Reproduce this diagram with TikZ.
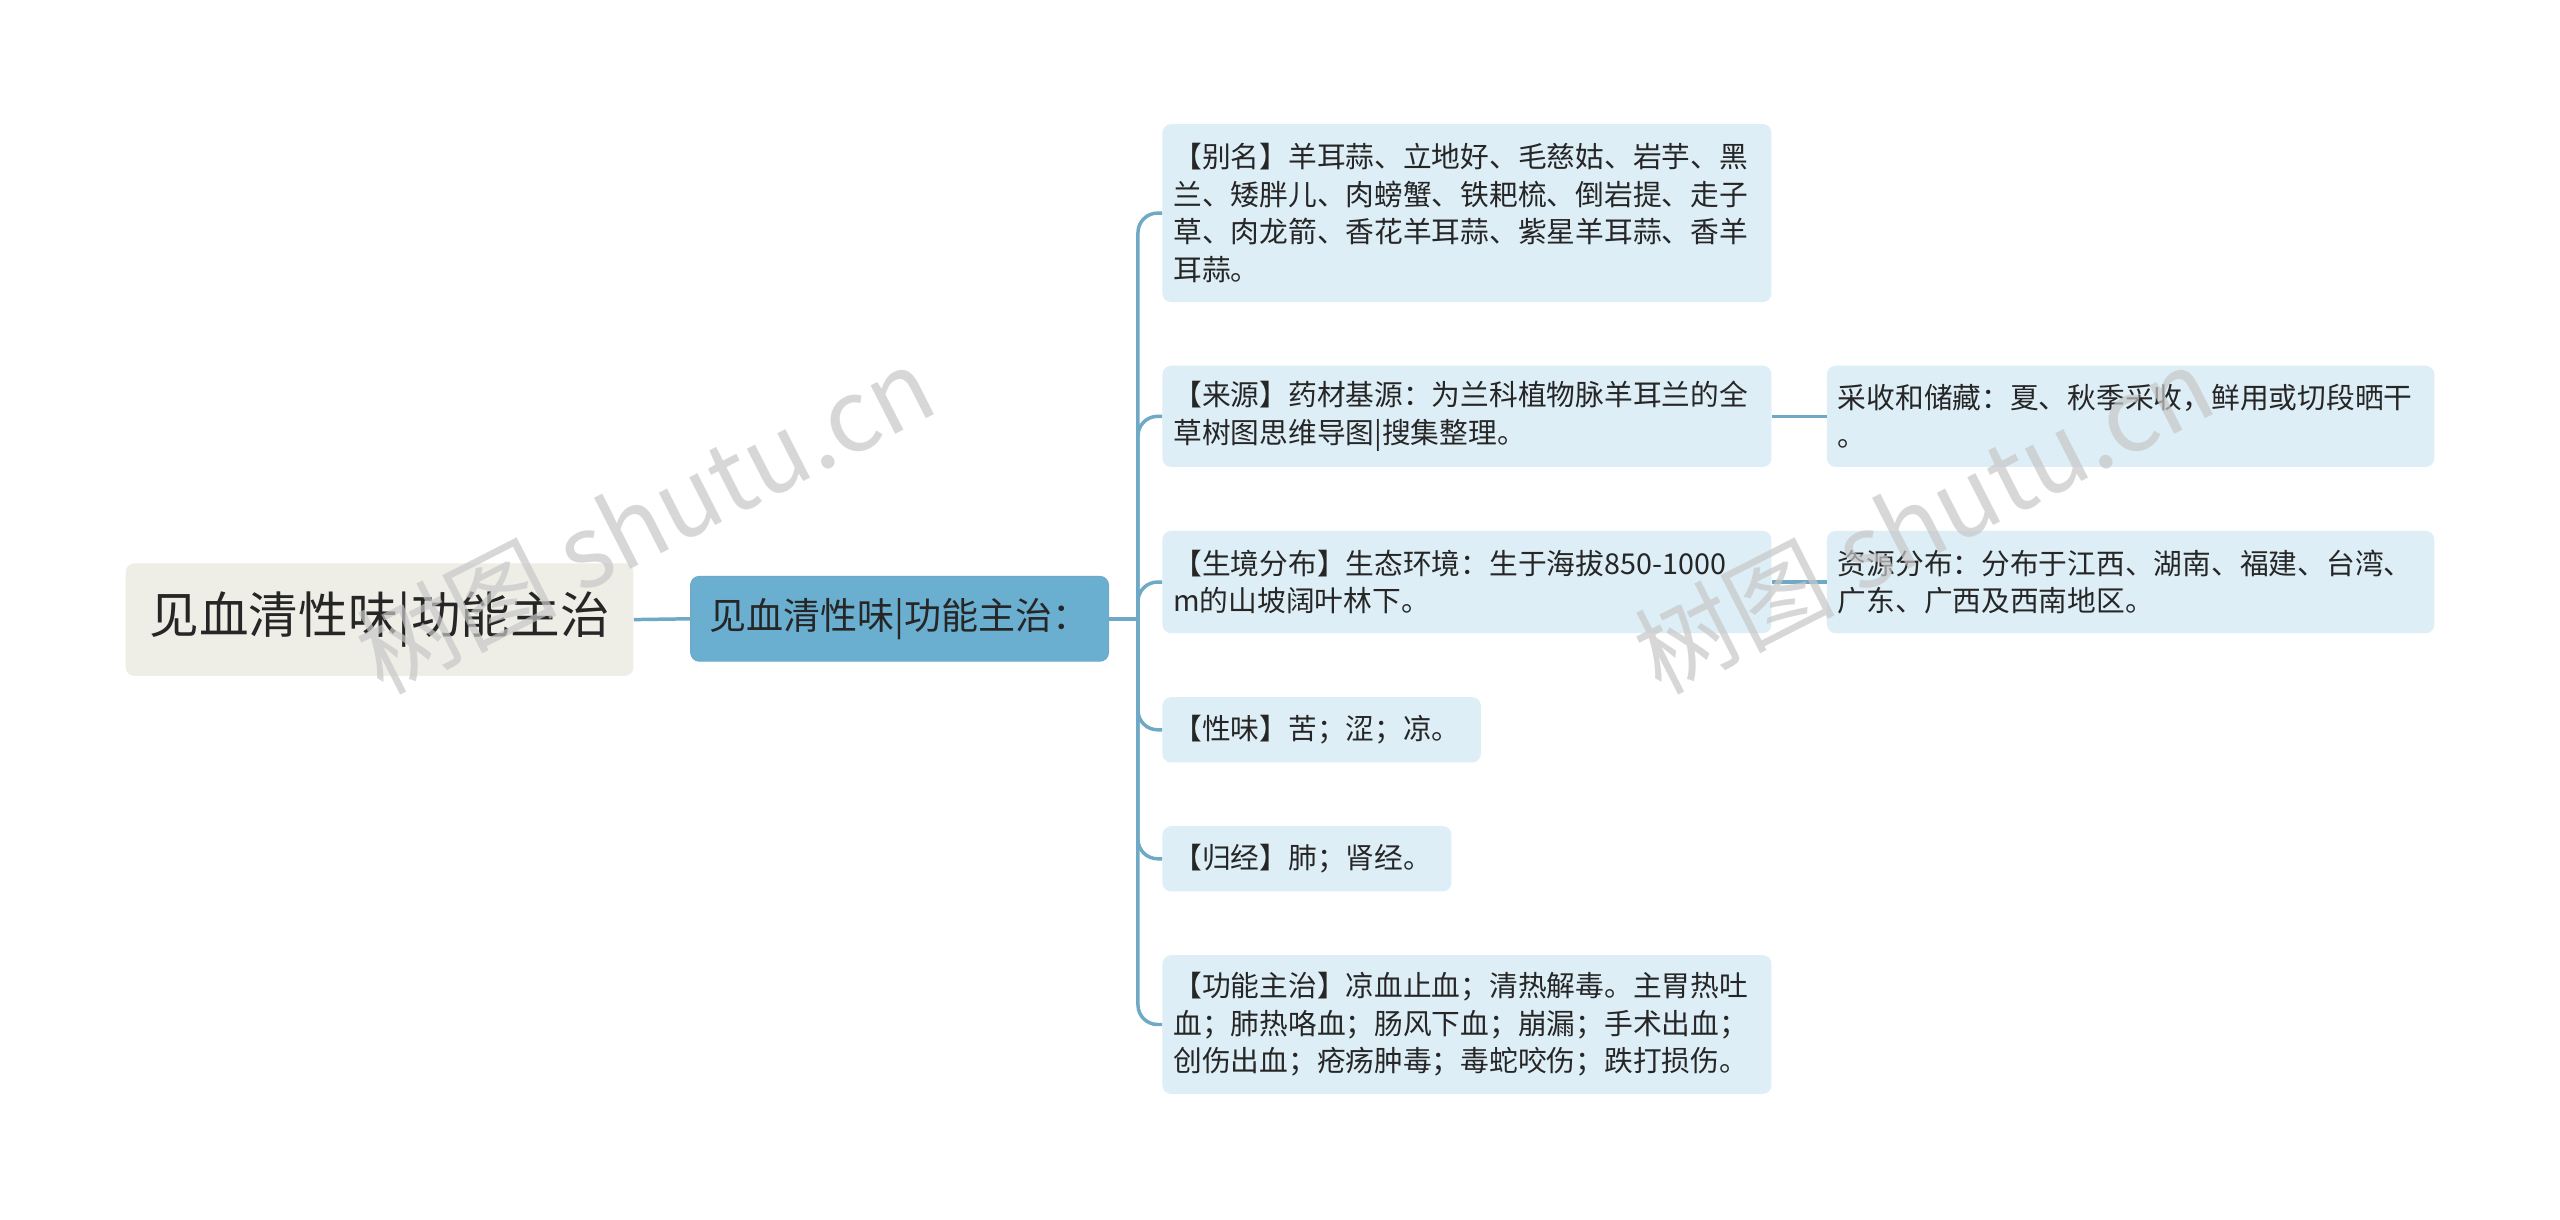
\documentclass[tikz,border=0pt]{standalone}
\usepackage{fontspec}
\setmainfont{Noto Sans CJK SC}
\begin{document}
\begin{tikzpicture}[x=0.75pt,y=-0.75pt,
  leaf/.style={fill=leafc,rounded corners=4pt,inner xsep=5pt,inner ysep=5pt,align=left,anchor=center,font=\fontsize{13.2}{17.25}\selectfont,text=black!85},
  conn/.style={draw=linec,line width=1.6pt}]
\definecolor{leafc}{HTML}{DEEEF6}
\definecolor{linec}{HTML}{6FA9C6}
\definecolor{rootc}{HTML}{EFEEE6}
\definecolor{midc}{HTML}{6AAED0}
\useasboundingbox[fill=white] (0,0) rectangle (1568,747);
\node[fill=rootc,rounded corners=4pt,minimum width=233.25pt,minimum height=51.75pt,font=\fontsize{22.8}{25}\selectfont,text=black!85] (root) at (232.5,379.5) {见血清性味|功能主治};
\node[fill=midc,draw=linec,rounded corners=4pt,minimum width=192pt,minimum height=39pt,font=\fontsize{17}{20}\selectfont,text=black!85] (mid) at (551,379) {见血清性味|功能主治：};
\node[leaf,text width=269.75pt,minimum height=81.75pt] (c1) at (898.5,130.5) {【别名】羊耳蒜、立地好、毛慈姑、岩芋、黑\\兰、矮胖儿、肉螃蟹、铁耙梳、倒岩提、走子\\草、肉龙箭、香花羊耳蒜、紫星羊耳蒜、香羊\\耳蒜。};
\node[leaf,text width=269.75pt,minimum height=46.5pt] (c2) at (898.5,255) {【来源】药材基源：为兰科植物脉羊耳兰的全\\草树图思维导图|搜集整理。};
\node[leaf,text width=269.75pt,minimum height=47pt] (c3) at (898.5,356.5) {【生境分布】生态环境：生于海拔850-1000\\m的山坡阔叶林下。};
\node[leaf,text width=136.25pt,minimum height=30pt] (c4) at (809.5,447) {【性味】苦；涩；凉。};
\node[leaf,text width=122.75pt,minimum height=30pt] (c5) at (800.5,526) {【归经】肺；肾经。};
\node[leaf,text width=269.75pt,minimum height=63.75pt] (c6) at (898.5,627.5) {【功能主治】凉血止血；清热解毒。主胃热吐\\血；肺热咯血；肠风下血；崩漏；手术出血；\\创伤出血；疮疡肿毒；毒蛇咬伤；跌打损伤。};
\node[leaf,text width=269pt,minimum height=46.5pt] (d1) at (1305,255) {采收和储藏：夏、秋季采收，鲜用或切段晒干\\。};
\node[leaf,text width=269pt,minimum height=47pt] (d2) at (1305,356.5) {资源分布：分布于江西、湖南、福建、台湾、\\广东、广西及西南地区。};
\draw[conn] (root.east) -- (mid.west);
\coordinate (sp) at (697,379);
\draw[conn] (mid.east) -- (sp);
\foreach \c in {c1,c2,c3,c4,c5,c6}{\draw[conn,rounded corners=9pt] (sp) |- (\c.west);}
\draw[conn] (c2.east) -- (d1.west);
\draw[conn] (c3.east) -- (d2.west);
\node[rotate=27,text=black!22,opacity=0.7,font=\fontsize{46}{50}\selectfont] (w1) at (395,318) {树图 shutu.cn};
\node[rotate=27,text=black!22,opacity=0.7,font=\fontsize{46}{50}\selectfont] (w2) at (1178,318) {树图 shutu.cn};
\end{tikzpicture}
\end{document}
